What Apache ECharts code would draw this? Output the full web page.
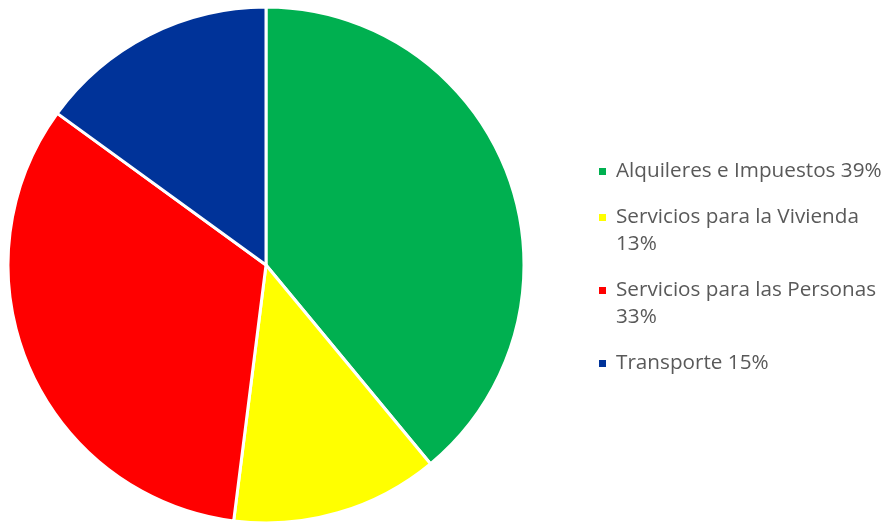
<!DOCTYPE html>
<html>
<head>
<meta charset="utf-8">
<script src="https://cdn.jsdelivr.net/npm/echarts@6/dist/echarts.min.js"></script>
<style>html,body{margin:0;padding:0;background:#fff}#c{width:886px;height:522px}</style>
</head>
<body>
<div id="c"></div>
<script>
const categories = ["Alquileres e Impuestos", "Servicios para la Vivienda", "Servicios para las Personas", "Transporte"];
const values = [39, 13, 33, 15];
const colors = ["#00B050", "#FFFF00", "#FF0000", "#003399"];
const legendBreak = [false, true, true, false];

const chart = echarts.init(document.getElementById('c'), null, {renderer: 'canvas'});
const rich = {
  t: {fontFamily: 'Open Sans', fontSize: 20.7, color: '#595959', lineHeight: 27, padding: [0,0,0,10]},
  s: {width: 7, height: 7}
};
colors.forEach((c, i) => { rich['m' + i] = {width: 7, height: 7, backgroundColor: c}; });

chart.setOption({
  animation: false,
  color: colors,
  legend: {
    orient: 'vertical',
    left: 588,
    top: 153,
    itemGap: 19,
    itemWidth: 0,
    itemHeight: 0,
    icon: 'rect',
    selectedMode: false,
    textStyle: {rich: rich, fontSize: 20.7, lineHeight: 27},
    formatter: function (name) {
      const i = categories.indexOf(name);
      const pct = values[i] + '%';
      if (legendBreak[i]) return '{m' + i + '|}{t|' + name + '}\n{s|}{t|' + pct + '}';
      return '{m' + i + '|}{t|' + name + ' ' + pct + '}';
    },
    data: categories
  },
  series: [{
    type: 'pie',
    center: [266, 265],
    radius: [0, 258],
    startAngle: 90,
    clockwise: true,
    label: {show: false},
    labelLine: {show: false},
    itemStyle: {borderColor: '#ffffff', borderWidth: 3},
    emphasis: {disabled: true},
    data: categories.map((n, i) => ({name: n, value: values[i]}))
  }]
});
</script>
</body>
</html>
